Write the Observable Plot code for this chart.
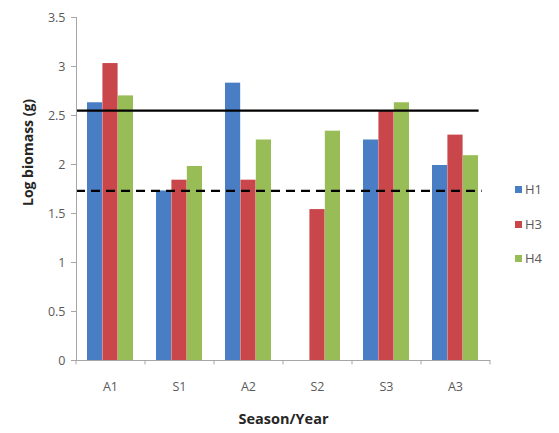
<!DOCTYPE html>
<html>
<head>
<meta charset="utf-8">
<script src="https://cdn.jsdelivr.net/npm/d3@7"></script>
<script src="https://cdn.jsdelivr.net/npm/@observablehq/plot@0.6"></script>
<style>
  body { margin: 0; background: #fff; font-family: "Open Sans", "Liberation Sans", sans-serif; }
  #wrap { position: relative; width: 559px; height: 433px; }
  #legend { position: absolute; left: 515px; top: 180px; font-size: 13px; color: #595959; }
  #legend div { height: 34.5px; line-height: 18px; white-space: nowrap; }
  #legend span.sw { display: inline-block; width: 7px; height: 7px; margin-right: 3px; vertical-align: 1px; }
</style>
</head>
<body>
<div id="wrap"><div id="chart"></div><div id="legend"></div></div>
<script>
const categories = ["A1", "S1", "A2", "S2", "S3", "A3"];
const seriesNames = ["H1", "H3", "H4"];
const H1 = [2.63, 1.73, 2.83, null, 2.25, 1.99];
const H3 = [3.03, 1.84, 1.84, 1.54, 2.55, 2.30];
const H4 = [2.70, 1.98, 2.25, 2.34, 2.63, 2.09];
const colors = ["#4a7ec4", "#c9474b", "#98bd57"];
const solidRef = 2.55;
const dashedRef = 1.73;
const yTicks = [0, 0.5, 1, 1.5, 2, 2.5, 3, 3.5];

const W = 559, H = 433;
const mL = 76, mR = 69, mT = 17, mB = 73;
const padInner = 0.33, padOuter = padInner / 2;
const step = (W - mL - mR) / (categories.length - padInner + 2 * padOuter);
const bw = step * (1 - padInner);
const third = bw / 3;

const seriesData = [H1, H3, H4].map(vals => categories.map((c, i) => ({cat: c, v: vals[i]})).filter(d => d.v != null));

const barMarks = seriesData.map((data, k) => Plot.barY(data, {
  x: "cat", y: "v", fill: colors[k],
  insetLeft: k * third, insetRight: (2 - k) * third
}));

const chart = Plot.plot({
  width: W, height: H,
  marginLeft: mL, marginRight: mR, marginTop: mT, marginBottom: mB,
  style: {fontFamily: "'Open Sans', 'Liberation Sans', sans-serif", fontSize: "12px", color: "#595959", background: "#fff"},
  x: {domain: categories, paddingInner: padInner, paddingOuter: padOuter, label: null},
  y: {domain: [0, 3.5], label: null},
  marks: [
    ...barMarks,
    Plot.ruleY([solidRef], {stroke: "#000", strokeWidth: 2.2, insetRight: step * padOuter}),
    Plot.ruleY([dashedRef], {stroke: "#000", strokeWidth: 2.2, strokeDasharray: "9,6", insetRight: step * padOuter - 3}),
    Plot.ruleY([0], {stroke: "#a6a6a6"}),
    Plot.frame({anchor: "left", stroke: "#a6a6a6"}),
    Plot.ruleX(categories, {x: d => d, y1: 0, y2: -0.045, dx: -step / 2, stroke: "#a6a6a6"}),
    Plot.ruleX([categories[categories.length - 1]], {x: d => d, y1: 0, y2: -0.045, dx: step / 2, stroke: "#a6a6a6"}),
    Plot.axisY({ticks: yTicks, tickSize: 5, tickPadding: 6, stroke: "#a6a6a6", label: null, tickFormat: d => String(d), fontSize: 12.5}),
    Plot.axisX({tickSize: 0, tickPadding: 22, label: null, fontSize: 12.5}),
    Plot.text(["Log biomass (g)"], {frameAnchor: "left", rotate: -90, dx: -48, dy: 17, fontWeight: "bold", fontSize: 14, fill: "#262626"}),
    Plot.text(["Season/Year"], {frameAnchor: "bottom", dy: 63, fontWeight: "bold", fontSize: 14.5, fill: "#262626"})
  ]
});
document.getElementById("chart").append(chart);

const legend = document.getElementById("legend");
seriesNames.forEach((n, i) => {
  const row = document.createElement("div");
  row.innerHTML = `<span class="sw" style="background:${colors[i]}"></span>${n}`;
  legend.append(row);
});
</script>
</body>
</html>
